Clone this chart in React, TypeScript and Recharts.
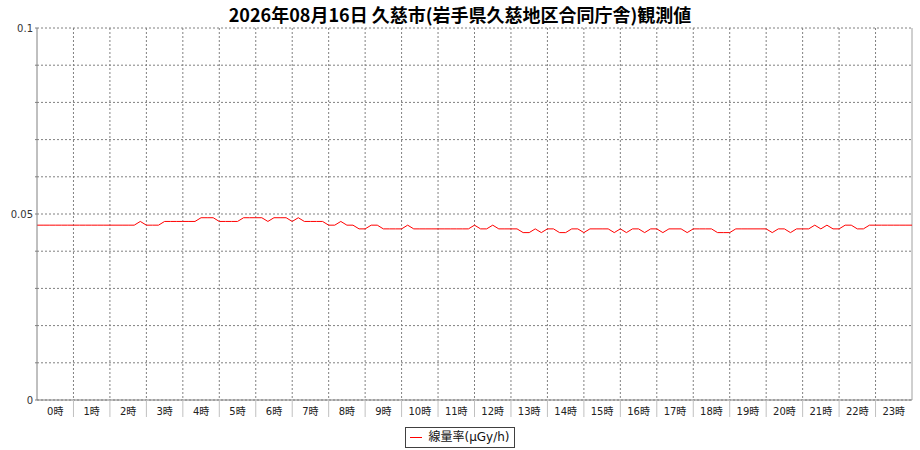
import { LineChart, Line, XAxis, YAxis, CartesianGrid, Legend, ReferenceLine } from "recharts";

const TITLE = "2026年08月16日 久慈市(岩手県久慈地区合同庁舎)観測値";
const SERIES_NAME = "線量率(μGy/h)";

const HOUR_LABELS = [
  "0時", "1時", "2時", "3時", "4時", "5時", "6時", "7時", "8時", "9時", "10時", "11時",
  "12時", "13時", "14時", "15時", "16時", "17時", "18時", "19時", "20時", "21時", "22時", "23時",
];

// 10-minute readings, one row per hour, last value is 24:00
const DOSE = [
  0.047, 0.047, 0.047, 0.047, 0.047, 0.047,
  0.047, 0.047, 0.047, 0.047, 0.047, 0.047,
  0.047, 0.047, 0.047, 0.047, 0.047, 0.048,
  0.047, 0.047, 0.047, 0.048, 0.048, 0.048,
  0.048, 0.048, 0.048, 0.049, 0.049, 0.049,
  0.048, 0.048, 0.048, 0.048, 0.049, 0.049,
  0.049, 0.049, 0.048, 0.049, 0.049, 0.049,
  0.048, 0.049, 0.048, 0.048, 0.048, 0.048,
  0.047, 0.047, 0.048, 0.047, 0.047, 0.046,
  0.046, 0.047, 0.047, 0.046, 0.046, 0.046,
  0.046, 0.047, 0.046, 0.046, 0.046, 0.046,
  0.046, 0.046, 0.046, 0.046, 0.046, 0.046,
  0.047, 0.046, 0.046, 0.047, 0.046, 0.046,
  0.046, 0.046, 0.045, 0.045, 0.046, 0.045,
  0.046, 0.046, 0.045, 0.045, 0.046, 0.046,
  0.045, 0.046, 0.046, 0.046, 0.046, 0.045,
  0.046, 0.045, 0.046, 0.046, 0.045, 0.046,
  0.046, 0.045, 0.046, 0.046, 0.046, 0.045,
  0.046, 0.046, 0.046, 0.046, 0.045, 0.045,
  0.045, 0.046, 0.046, 0.046, 0.046, 0.046,
  0.046, 0.045, 0.046, 0.046, 0.045, 0.046,
  0.046, 0.046, 0.047, 0.046, 0.047, 0.046,
  0.046, 0.047, 0.047, 0.046, 0.046, 0.047,
  0.047, 0.047, 0.047, 0.047, 0.047, 0.047,
  0.047,
];

const Y_TICKS = [0, 0.01, 0.02, 0.03, 0.04, 0.05, 0.06, 0.07, 0.08, 0.09, 0.1];
const Y_LABELS = ["0", "", "", "", "", "0.05", "", "", "", "", "0.1"];

const data = DOSE.map((v, i) => ({ t: i, v }));
const STEPS_PER_HOUR = 6;
const hourCenters = HOUR_LABELS.map((_, h) => h * STEPS_PER_HOUR + STEPS_PER_HOUR / 2);

const W = 920;
const H = 450;
const Y_AXIS_W = 37;
const RIGHT = 8;
const TOP = 28;
const X_AXIS_H = 50;
const PLOT_W = W - Y_AXIS_W - RIGHT;
const PLOT_BOTTOM = H - X_AXIS_H;
const HALF_HOUR_PX = PLOT_W / HOUR_LABELS.length / 2;

const FONT = "'DejaVu Sans', 'Noto Sans CJK JP', sans-serif";

function HourTick(props: any) {
  const { x, payload } = props;
  const h = Math.round((payload.value - STEPS_PER_HOUR / 2) / STEPS_PER_HOUR);
  return (
    <g>
      {h > 0 && (
        <line
          x1={x - HALF_HOUR_PX}
          x2={x - HALF_HOUR_PX}
          y1={PLOT_BOTTOM}
          y2={PLOT_BOTTOM + 17}
          stroke="#c0c0c0"
        />
      )}
      <text
        x={x}
        y={PLOT_BOTTOM + 15}
        textAnchor="middle"
        fontSize={10}
        fontFamily={FONT}
        fill="#222"
      >
        {HOUR_LABELS[h]}
      </text>
    </g>
  );
}

function LegendBox() {
  return (
    <div style={{ width: W, display: "flex", justifyContent: "center" }}>
      <div
        style={{
          display: "flex",
          alignItems: "center",
          boxSizing: "border-box",
          border: "1px solid #404040",
          height: 21,
          padding: "0 4px",
          fontFamily: FONT,
          fontSize: 12,
          lineHeight: "19px",
          color: "#111",
        }}
      >
        <span
          style={{ display: "inline-block", width: 12, height: 1, background: "#ff0000", marginRight: 6 }}
        />
        {SERIES_NAME}
      </div>
    </div>
  );
}

export default function App() {
  return (
    <div style={{ position: "absolute", left: 0, top: 0, width: W, height: H, background: "#fff" }}>
      <div
        style={{
          position: "absolute",
          left: 0,
          top: 3,
          width: W,
          textAlign: "center",
          fontFamily: "'Noto Sans CJK JP', sans-serif",
          fontWeight: "bold",
          fontSize: 18,
          lineHeight: "22px",
          color: "#000",
        }}
      >
        {TITLE}
      </div>
      <LineChart
        width={W}
        height={H}
        data={data}
        margin={{ top: TOP, right: RIGHT, bottom: 0, left: 0 }}
      >
        <CartesianGrid
          stroke="#808080"
          strokeDasharray="2 2"
          verticalCoordinatesGenerator={({ offset }: any) =>
            HOUR_LABELS.slice(1).map((_, k) => offset.left + ((k + 1) * offset.width) / HOUR_LABELS.length)
          }
        />
        <XAxis
          dataKey="t"
          type="number"
          domain={[0, DOSE.length - 1]}
          ticks={hourCenters}
          interval={0}
          height={X_AXIS_H}
          tickLine={false}
          axisLine={{ stroke: "#808080" }}
          tick={<HourTick />}
        />
        <YAxis
          type="number"
          domain={[0, 0.1]}
          ticks={Y_TICKS}
          interval={0}
          width={Y_AXIS_W}
          tickSize={2}
          tickMargin={2}
          axisLine={{ stroke: "#808080" }}
          tickLine={{ stroke: "#808080" }}
          tick={{ fontSize: 10, fontFamily: FONT, fill: "#333" }}
          tickFormatter={(v: number) => Y_LABELS[Y_TICKS.indexOf(v)] ?? ""}
        />
        <ReferenceLine x={DOSE.length - 1} stroke="#a0a0a0" />
        <Line
          type="linear"
          dataKey="v"
          name={SERIES_NAME}
          stroke="#ff0000"
          strokeWidth={1}
          dot={false}
          activeDot={false}
          isAnimationActive={false}
        />
        <Legend
          layout="horizontal"
          verticalAlign="middle"
          align="center"
          wrapperStyle={{ left: 0, top: 427, width: W, height: 21 }}
          content={() => <LegendBox />}
        />
      </LineChart>
    </div>
  );
}
